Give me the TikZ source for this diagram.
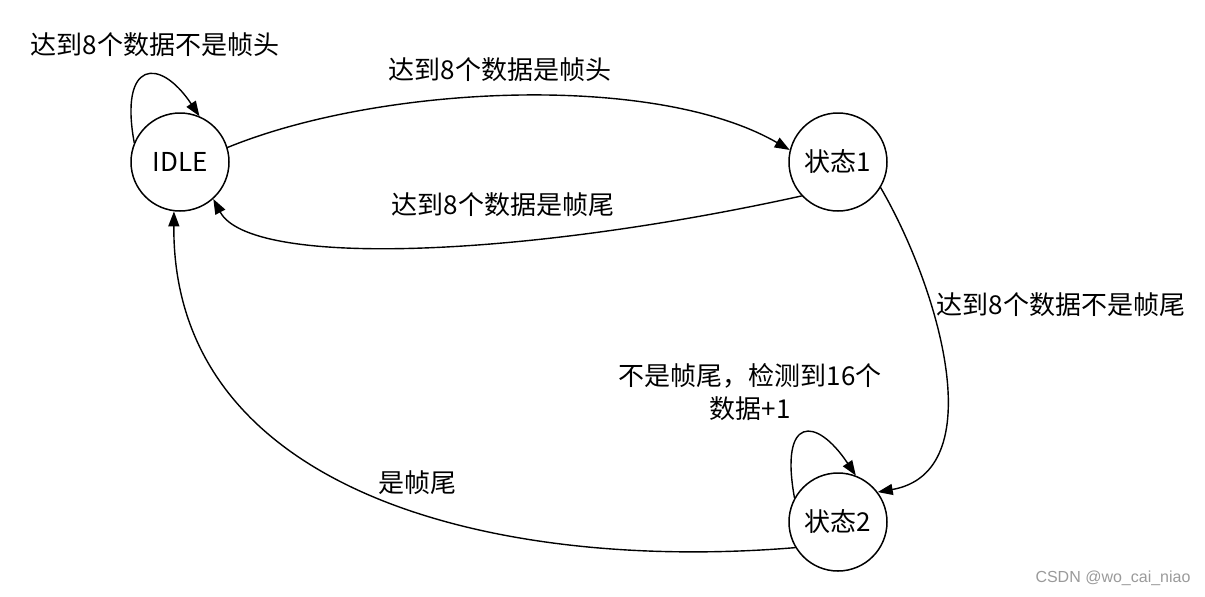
\documentclass[tikz,border=0pt]{standalone}
\usepackage{fontspec}
\setmainfont{Noto Sans CJK SC}
\newfontfamily\markfont{Liberation Sans}
\usetikzlibrary{arrows.meta}
\definecolor{ink}{HTML}{000000}
\definecolor{markgray}{HTML}{9A9A9A}
\tikzset{
    every picture/.style={line cap=round,line join=round},
    fsmstate/.style={draw=ink,circle,line width=0.75pt,minimum size=49pt,
      inner sep=0pt,font=\fontsize{13}{15}\selectfont},
    transarrow/.style={-{Triangle[length=7.5pt,width=5.5pt]},draw=ink,
      line width=0.7pt},
    translabel/.style={text=ink,font=\fontsize{13}{16.5}\selectfont,
      align=center,inner sep=1pt}
}

\begin{document}
\begin{tikzpicture}[x=0.5pt,y=-0.5pt]
  \useasboundingbox (0,0) rectangle (1205,596);
  \node[fsmstate] (idle) at (180,162) {IDLE};
  \node[fsmstate] (stateone) at (838,162) {状态1};
  \node[fsmstate] (statetwo) at (838,522) {状态2};
  \draw[transarrow] (idle.157) .. controls +(-15,-82) and +(-40,-60) .. (idle.67);
  \draw[transarrow] (idle.17) .. controls (380,85) and (655,72) .. (stateone.166);
  \draw[transarrow] (stateone.223) .. controls (520,258) and (250,268) .. (idle.312);
  \draw[transarrow] (stateone.329) .. controls (940,290) and (992,472) .. (statetwo.37);
  \draw[transarrow] (statetwo.151) .. controls +(-15,-82) and +(-40,-60) .. (statetwo.69);
  \draw[transarrow] (statetwo.211) .. controls (500,572) and (172,495) .. (idle.263);
  \node[translabel] (lblidle) at (155,45) {达到8个数据不是帧头};
  \node[translabel] (lblhead) at (500,70) {达到8个数据是帧头};
  \node[translabel] (lbltail) at (503,205) {达到8个数据是帧尾};
  \node[translabel] (lblnotail) at (1061,305) {达到8个数据不是帧尾};
  \node[translabel] (lblcount) at (750,392) {不是帧尾，检测到16个\\数据+1};
  \node[translabel] (lblback) at (417,483) {是帧尾};
  \node[text=markgray,font=\markfont\fontsize{8}{10}\selectfont] (mark) at (1113,578) {CSDN @wo\_cai\_niao};
\end{tikzpicture}
\end{document}
